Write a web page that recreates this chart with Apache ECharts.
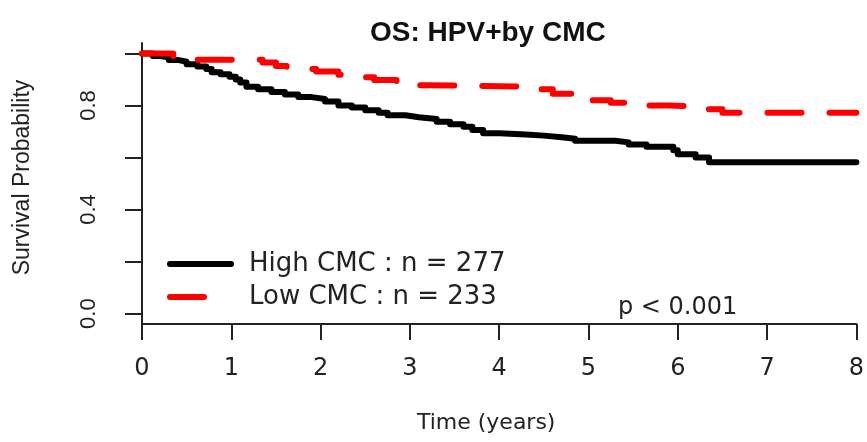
<!DOCTYPE html>
<html>
<head>
<meta charset="utf-8">
<script src="https://cdn.jsdelivr.net/npm/echarts@6/dist/echarts.min.js"></script>
<style>html,body{margin:0;padding:0;background:#fff}#c{width:867px;height:442px}</style>
</head>
<body>
<div id="c"></div>
<script>
// Kaplan-Meier step points: [time (years), survival]
var highCMC = [[0,1.0],[0.12,0.99],[0.2,0.985],[0.3,0.975],[0.4,0.968],[0.5,0.958],[0.62,0.95],[0.72,0.94],[0.78,0.928],[0.88,0.92],[0.98,0.91],[1.05,0.9],[1.1,0.888],[1.17,0.872],[1.3,0.862],[1.45,0.852],[1.6,0.842],[1.75,0.832],[1.9,0.825],[2.05,0.815],[2.2,0.8],[2.35,0.792],[2.5,0.782],[2.65,0.772],[2.75,0.762],[2.95,0.755],[3.1,0.748],[3.3,0.737],[3.45,0.728],[3.6,0.718],[3.7,0.706],[3.82,0.693],[4.0,0.688],[4.3,0.684],[4.5,0.678],[4.7,0.672],[4.85,0.664],[5.3,0.658],[5.45,0.65],[5.65,0.641],[5.95,0.628],[6.0,0.612],[6.2,0.6],[6.35,0.582],[8.0,0.582]];
var lowCMC = [[0,1.0],[0.35,0.99],[0.6,0.976],[1.35,0.965],[1.5,0.952],[1.62,0.94],[1.95,0.93],[2.2,0.918],[2.35,0.908],[2.6,0.898],[2.85,0.888],[3.0,0.878],[3.2,0.872],[4.45,0.862],[4.6,0.845],[4.85,0.83],[5.0,0.82],[5.25,0.81],[5.55,0.8],[5.9,0.795],[6.3,0.785],[6.5,0.772],[8.0,0.772]];
var seriesNames = ['High CMC : n = 277', 'Low CMC : n = 233'];
var xTicks = [0,1,2,3,4,5,6,7,8];
var yTicks = [0,0.2,0.4,0.6,0.8,1.0];
var yTickLabels = [0,0.4,0.8];
var titleText = 'OS: HPV+by CMC';
var pText = 'p < 0.001';

var chart = echarts.init(document.getElementById('c'), null, {renderer:'canvas'});
var axisCol = '#222';
chart.setOption({
  animation: false,
  backgroundColor: '#fff',
  title: {
    text: titleText, left: 365, top: 14,
    textStyle: {fontFamily: 'Liberation Sans', fontWeight: 'bold', fontSize: 28, color: '#111'}
  },
  grid: {left: 142, right: 9, top: 43, bottom: 118, containLabel: false},
  legend: {
    show: true, orient: 'vertical', left: 167, top: 251, padding: 0,
    itemWidth: 61, itemHeight: 14, itemGap: 7,
    data: seriesNames,
    itemStyle: {opacity: 0},
    lineStyle: {width: 6, cap: 'round'},
    textStyle: {fontFamily: 'DejaVu Sans', fontSize: 26, color: '#222', lineHeight: 24, padding: [0,0,0,13]}
  },
  xAxis: {
    type: 'value', min: xTicks[0], max: xTicks[xTicks.length-1], interval: 1,
    axisLine: {onZero: false, lineStyle: {color: axisCol, width: 2}},
    axisTick: {length: 16, lineStyle: {color: axisCol, width: 2}},
    axisLabel: {margin: 33, fontFamily: 'DejaVu Sans', fontSize: 24, color: '#222'},
    splitLine: {show: false},
    name: 'Time (years)', nameLocation: 'middle', nameGap: 88,
    nameTextStyle: {fontFamily: 'DejaVu Sans', fontSize: 22, color: '#222', padding: [0,26,0,0]}
  },
  yAxis: {
    type: 'value', min: -0.04, max: 1.04,
    axisLine: {show: true, lineStyle: {color: axisCol, width: 2}},
    axisTick: {show: true, length: 17, customValues: yTicks, lineStyle: {color: axisCol, width: 2}},
    axisLabel: {customValues: yTickLabels, rotate: 90, margin: 42, fontFamily: 'Liberation Sans', fontSize: 22, color: '#222',
      formatter: function(v){ return v.toFixed(1); }},
    splitLine: {show: false},
    name: 'Survival Probability', nameLocation: 'middle', nameGap: 108,
    nameTextStyle: {fontFamily: 'Liberation Sans', fontSize: 23, color: '#222', padding: [0,0,0,12]}
  },
  graphic: [{
    type: 'text', left: 618, top: 296,
    style: {text: pText, font: '24px "DejaVu Sans"', fill: '#222'}
  }],
  series: [
    {name: seriesNames[0], type: 'line', step: 'end', data: highCMC, symbol: 'none',
     lineStyle: {color: '#000', width: 6, cap: 'round', join: 'round'}, itemStyle: {color: '#000'}, z: 3},
    {name: seriesNames[1], type: 'line', step: 'end', data: lowCMC, symbol: 'none',
     lineStyle: {color: '#f00', width: 6, type: [34, 28], cap: 'round', join: 'round'}, itemStyle: {color: '#f00'}, z: 4}
  ]
});
</script>
</body>
</html>
